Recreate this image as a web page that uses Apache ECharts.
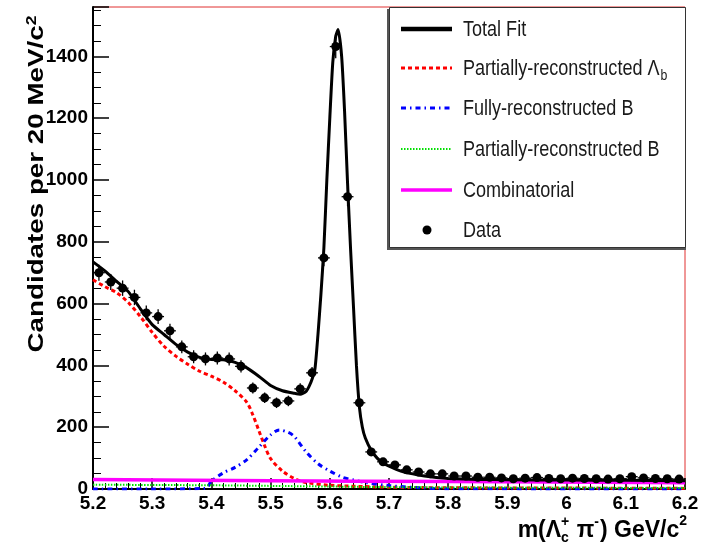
<!DOCTYPE html>
<html>
<head>
<meta charset="utf-8">
<script src="https://cdn.jsdelivr.net/npm/echarts@6/dist/echarts.min.js"></script>
<style>
html,body{margin:0;padding:0;background:#fff;}
#chart{width:711px;height:545px;}
</style>
</head>
<body>
<div id="chart"></div>
<script>
// ---------- data ----------
const binCenters = [5.21,5.23,5.25,5.27,5.29,5.31,5.33,5.35,5.37,5.39,5.41,5.43,5.45,5.47,5.49,5.51,5.53,5.55,5.57,5.59,5.61,5.63,5.65,5.67,5.69,5.71,5.73,5.75,5.77,5.79,5.81,5.83,5.85,5.87,5.89,5.91,5.93,5.95,5.97,5.99,6.01,6.03,6.05,6.07,6.09,6.11,6.13,6.15,6.17,6.19];
const dataCounts = [700,670,650,620,570,558,512,460,428,421,424,421,397,327,295,279,285,324,376,748,1432,946,279,120,88,78,62,55,49,49,42,42,38,38,36,33,35,37,34,33,35,34,33,32,33,40,36,34,33,32];
const dataErrors = [26,26,25,25,24,24,23,21,21,21,21,21,20,18,17,17,17,18,19,27,38,31,17,11,9,9,8,7,7,7,6.5,6.5,6,6,6,6,6,6,6,6,6,6,6,6,6,6,6,6,6,6];

const totalX = [5.20,5.22,5.24,5.26,5.28,5.30,5.32,5.34,5.36,5.38,5.40,5.42,5.44,5.46,5.48,5.50,5.52,5.54,5.55,5.56,5.565,5.57,5.575,5.58,5.585,5.59,5.595,5.60,5.605,5.61,5.614,5.62,5.625,5.63,5.635,5.64,5.645,5.65,5.655,5.66,5.67,5.68,5.69,5.70,5.72,5.74,5.76,5.78,5.80,5.85,5.90,6.00,6.10,6.20];
const totalY = [735,706,672,638,583,532,500,468,443,426,419,418,410,392,365,335,318,310,307,316,332,355,390,500,630,780,1000,1200,1380,1465,1487,1400,1220,990,780,590,400,265,200,165,125,100,84,74,58,49,42,37,34,31,30,29,28,27];

const lambdaBX = [5.20,5.22,5.24,5.26,5.28,5.30,5.32,5.34,5.36,5.38,5.40,5.42,5.44,5.46,5.47,5.48,5.49,5.50,5.52,5.54,5.56,5.60,5.70,5.80,6.00,6.20];
const lambdaBY = [677,655,635,603,558,507,462,430,404,381,365,346,318,280,240,190,140,98,58,34,21,12,6,4,3,2];

const fullBX = [5.20,5.30,5.39,5.40,5.42,5.44,5.46,5.48,5.50,5.515,5.53,5.54,5.56,5.58,5.60,5.62,5.64,5.66,5.70,5.75,5.80,6.20];
const fullBY = [0,0,2,25,52,70,95,135,175,191,183,170,120,82,58,39,29,21,11,4,1,0];

const partBX = [5.20,5.30,5.40,5.50,5.60,5.70,5.80,6.00,6.20];
const partBY = [14,13,12,10,8,6,5,4,3];

const combX = [5.20,5.50,5.80,6.20];
const combY = [31,27,24,20];

const yTicks = [0,200,400,600,800,1000,1200,1400];
const xTicks = [5.2,5.3,5.4,5.5,5.6,5.7,5.8,5.9,6.0,6.1,6.2];

const legendNames = ['Total Fit', 'Partially-reconstructed Λ', 'Fully-reconstructed B', 'Partially-reconstructed B', 'Combinatorial', 'Data'];
const seriesNames = ['Total Fit', 'Partially-reconstructed Λb', 'Fully-reconstructed B', 'Partially-reconstructed B', 'Combinatorial', 'Data'];

// ---------- styles ----------
const SANS = '"Liberation Sans", Arial, sans-serif';
const styles = [
  {color: '#000000', width: 3, dash: null},
  {color: '#ff0000', width: 3, dash: [4, 3]},
  {color: '#0000ff', width: 3, dash: [5, 4, 1.5, 4]},
  {color: '#00e000', width: 2, dash: [1.5, 1.5]},
  {color: '#ff00ff', width: 3.5, dash: null}
];

const zip = (xs, ys) => xs.map((x, i) => [x, ys[i]]);
const mctx = document.createElement('canvas').getContext('2d');
function tw(t, font) { mctx.font = font; return mctx.measureText(t).width; }

// ---------- x-axis title pieces ----------
const fMain = 'bold 23px ' + SANS;
const fSmall = 'bold 14px ' + SANS;
const xb = 539;
const pieces = [];
let cur = 0;
function addPiece(t, font, size, base) { pieces.push({t, font, size, x: cur, base}); }
addPiece('m(Λ', fMain, 23, xb); cur += tw('m(Λ', fMain);
addPiece('+', fSmall, 14, xb - 12); addPiece('c', fSmall, 14, xb + 4);
cur += Math.max(tw('+', fSmall), tw('c', fSmall)) + 1;
addPiece(' π', fMain, 23, xb); cur += tw(' π', fMain);
addPiece('-', fSmall, 14, xb - 12); cur += tw('-', fSmall) + 1;
addPiece(') GeV/c', fMain, 23, xb); cur += tw(') GeV/c', fMain);
addPiece('2', fSmall, 14, xb - 13); cur += tw('2', fSmall);
const xTitleStart = 687 - cur;
const xTitleEls = pieces.map(p => ({
  type: 'text', silent: true, z: 6,
  style: {text: p.t, x: xTitleStart + p.x, y: p.base - 0.36 * p.size, font: p.font, fill: '#000', align: 'left', verticalAlign: 'middle'}
}));

// ---------- y-axis title ----------
const yMainFont = 'bold 22px ' + SANS;
const yTitleW = tw('Candidates per 20 MeV/c', yMainFont) + tw('2', 'bold 14px ' + SANS);
const yScale = 337 / yTitleW;

// ---------- legend (drawn as graphic) ----------
const legRows = [29, 68, 108, 149, 190, 230];
const legFont = '22px ' + SANS;
const legScale = 0.82;
const legendEls = [
  {type: 'rect', silent: true, z: 5, shape: {x: 387, y: 9, width: 299, height: 241}, style: {fill: '#555'}},
  {type: 'rect', silent: true, z: 5, shape: {x: 389.5, y: 7.5, width: 296, height: 240}, style: {fill: '#fff', stroke: '#333', lineWidth: 1}}
];
legendNames.forEach((name, i) => {
  const y = legRows[i];
  if (i < 5) {
    const s = styles[i];
    legendEls.push({type: 'line', silent: true, z: 7, shape: {x1: 401, y1: y, x2: 452, y2: y},
      style: {stroke: s.color, lineWidth: i === 0 ? 4.5 : s.width, lineDash: s.dash}});
  } else {
    legendEls.push({type: 'circle', silent: true, z: 7, shape: {cx: 427, cy: y, r: 4.5}, style: {fill: '#000'}});
  }
  legendEls.push({type: 'text', silent: true, z: 7, x: 463, y: y + 1, scaleX: legScale,
    style: {text: name, x: 0, y: 0, font: legFont, fill: '#1a1a1a', align: 'left', verticalAlign: 'middle'}});
  if (i === 1) {
    legendEls.push({type: 'text', silent: true, z: 7, x: 463 + tw(name, legFont) * legScale + 1, y: y + 8, scaleX: legScale,
      style: {text: 'b', x: 0, y: 0, font: '15px ' + SANS, fill: '#1a1a1a', align: 'left', verticalAlign: 'middle'}});
  }
});

const chart = echarts.init(document.getElementById('chart'), null, {renderer: 'canvas'});

function lineSeries(i, xs, ys, z, smooth) {
  const s = styles[i];
  return {type: 'line', name: seriesNames[i], symbol: 'none', showSymbol: false, silent: true, z: z, smooth: smooth,
    data: zip(xs, ys), itemStyle: {color: s.color},
    lineStyle: {color: s.color, width: s.width, type: s.dash || 'solid'}};
}

const option = {
  animation: false,
  backgroundColor: '#fff',
  grid: {left: 93, right: 26, top: 7, bottom: 56, show: true, borderColor: '#e03030', borderWidth: 1, backgroundColor: 'transparent'},
  xAxis: {
    type: 'value', min: 5.2, max: 6.2, interval: 0.1,
    axisLine: {show: true, onZero: false, lineStyle: {color: '#000', width: 2}},
    axisTick: {show: true, inside: true, length: 11, lineStyle: {color: '#000', width: 1.5}},
    minorTick: {show: true, splitNumber: 5, length: 6, lineStyle: {color: '#000', width: 1}},
    splitLine: {show: false},
    axisLabel: {margin: 5, color: '#000', fontFamily: SANS, fontWeight: 'bold', fontSize: 19,
      formatter: v => { const r = Math.round(v * 10) / 10; return xTicks.indexOf(r) >= 0 ? String(r) : ''; }}
  },
  yAxis: {
    type: 'value', min: 0, max: 1560, interval: 200,
    axisLine: {show: true, lineStyle: {color: '#000', width: 2}},
    axisTick: {show: true, inside: true, length: 16, lineStyle: {color: '#000', width: 1.5}},
    minorTick: {show: true, splitNumber: 4, length: 8, lineStyle: {color: '#000', width: 1}},
    splitLine: {show: false},
    axisLabel: {margin: 5, color: '#000', fontFamily: SANS, fontWeight: 'bold', fontSize: 19, showMaxLabel: false,
      formatter: v => yTicks.indexOf(v) >= 0 ? String(v) : ''}
  },
  graphic: [
    {type: 'text', silent: true, z: 6, x: 37, y: 184, rotation: Math.PI / 2, scaleX: yScale, scaleY: 1,
      style: {text: '{a|Candidates per 20 MeV/c}{s|2}', x: 0, y: 0, align: 'center', verticalAlign: 'middle',
        rich: {
          a: {font: yMainFont, fill: '#000', lineHeight: 24},
          s: {font: 'bold 14px ' + SANS, fill: '#000', lineHeight: 14, verticalAlign: 'top'}
        }}}
  ].concat(xTitleEls, legendEls),
  series: [
    lineSeries(1, lambdaBX, lambdaBY, 2, 0.3),
    lineSeries(2, fullBX, fullBY, 2, 0.3),
    lineSeries(3, partBX, partBY, 2, 0.3),
    lineSeries(4, combX, combY, 2, 0.3),
    lineSeries(0, totalX, totalY, 3, 0.2),
    {
      type: 'custom', name: seriesNames[5], z: 4, silent: true,
      itemStyle: {color: '#000'},
      encode: {x: 0, y: 1},
      data: binCenters.map((x, i) => [x, dataCounts[i], dataErrors[i]]),
      renderItem: (params, api) => {
        const x = api.value(0), y = api.value(1), e = api.value(2);
        const c = api.coord([x, y]);
        const t = api.coord([x, y + e]);
        const b = api.coord([x, y - e]);
        const l = api.coord([x - 0.01, y]);
        const r = api.coord([x + 0.01, y]);
        return {type: 'group', children: [
          {type: 'line', shape: {x1: c[0], y1: t[1], x2: c[0], y2: b[1]}, style: {stroke: '#000', lineWidth: 1.3}},
          {type: 'line', shape: {x1: l[0], y1: c[1], x2: r[0], y2: c[1]}, style: {stroke: '#000', lineWidth: 1.3}},
          {type: 'circle', shape: {cx: c[0], cy: c[1], r: 4.5}, style: {fill: '#000'}}
        ]};
      }
    }
  ]
};
chart.setOption(option);
</script>
</body>
</html>
